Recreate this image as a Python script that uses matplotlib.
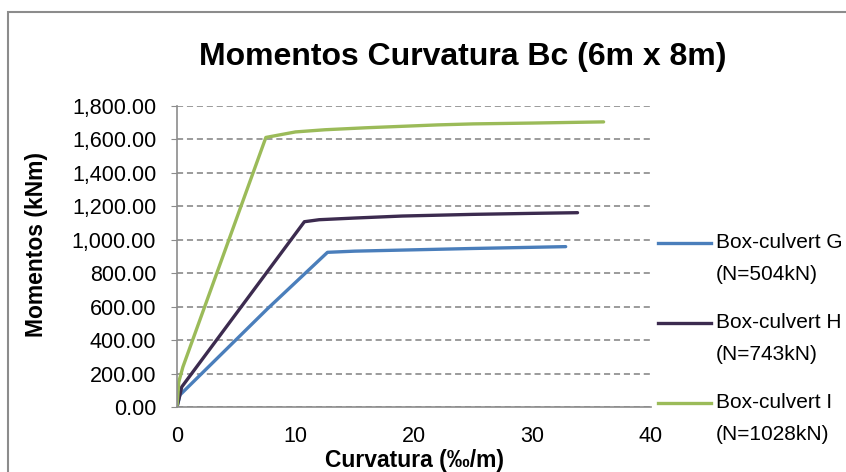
import matplotlib.pyplot as plt
from matplotlib.patches import Rectangle
from matplotlib.lines import Line2D

# curvatura (‰/m) e momentos (kNm)
curv_g = [0, 0.25, 7.6, 12.7, 15, 20, 25, 30, 32.8]
mom_g = [0, 72, 585, 925, 932, 940, 948, 955, 959]

curv_h = [0, 0.4, 10.75, 12, 15, 19, 25, 30, 33.8]
mom_h = [0, 120, 1108, 1120, 1130, 1142, 1152, 1158, 1162]

curv_i = [0, 0.15, 0.5, 7.5, 10, 12.5, 16, 22, 25, 30, 36]
mom_i = [0, 150, 240, 1612, 1645, 1658, 1670, 1687, 1693, 1698, 1705]

nomes = ['Box-culvert G', 'Box-culvert H', 'Box-culvert I']
cargas = ['(N=504kN)', '(N=743kN)', '(N=1028kN)']
cores = ['#4a7ebb', '#3c2b4f', '#9bbb59']

plt.rcParams['font.family'] = ['Liberation Sans', 'DejaVu Sans']

W, H = 846, 472
fig = plt.figure(figsize=(W / 100, H / 100), dpi=100)
ax = fig.add_axes([177 / W, 1 - 407 / H, (651 - 177) / W, (407 - 106) / H])

# moldura do grafico
fig.patches.append(Rectangle((8 / W, -0.1), 1.2, 1 - 12 / H + 0.1, transform=fig.transFigure,
                             fill=False, edgecolor='#8c8c8c', linewidth=1.5))

ax.plot(curv_g, mom_g, color=cores[0], lw=2.4, solid_capstyle='round')
ax.plot(curv_h, mom_h, color=cores[1], lw=2.4, solid_capstyle='round')
ax.plot(curv_i, mom_i, color=cores[2], lw=2.4, solid_capstyle='round')

ax.set_xlim(0, 40)
ax.set_ylim(0, 1800)
ax.set_xticks([0, 10, 20, 30, 40])
ax.set_yticks(range(0, 1801, 200))
ax.set_yticklabels(['{:,.2f}'.format(v) for v in range(0, 1801, 200)])
ax.tick_params(axis='x', length=0, labelsize=15.5, pad=14)
ax.tick_params(axis='y', length=4, color='#8c8c8c', labelsize=15.5, pad=11)

ax.grid(axis='y', linestyle='--', color='#808080', linewidth=1.1, dashes=(4, 2.5))
ax.set_axisbelow(True)
for s in ['top', 'right']:
    ax.spines[s].set_visible(False)
for s in ['left', 'bottom']:
    ax.spines[s].set_color('#8c8c8c')
    ax.spines[s].set_linewidth(1.2)

ax.set_xlabel('Curvatura (‰/m)', fontsize=16.5, fontweight='bold', va='center')
ax.xaxis.set_label_coords(0.5, (407 - 460) / 301)
ax.set_ylabel('Momentos (kNm)', fontsize=16.5, fontweight='bold', va='center')
ax.yaxis.set_label_coords((37 - 177) / 474, (407 - 244) / 301)
fig.text(463 / W, 1 - 57 / H, 'Momentos Curvatura Bc (6m x 8m)', ha='center', va='center',
         fontsize=23, fontweight='bold')

# legenda
for i, yl in enumerate([243, 323, 403]):
    fig.add_artist(Line2D([658 / W, 711 / W], [1 - yl / H] * 2, color=cores[i], lw=2.4,
                          transform=fig.transFigure))
    fig.text(716 / W, 1 - yl / H, nomes[i], fontsize=15, va='center')
    fig.text(716 / W, 1 - (yl + 32) / H, cargas[i], fontsize=15, va='center')

fig.savefig('out.png', dpi=100)
